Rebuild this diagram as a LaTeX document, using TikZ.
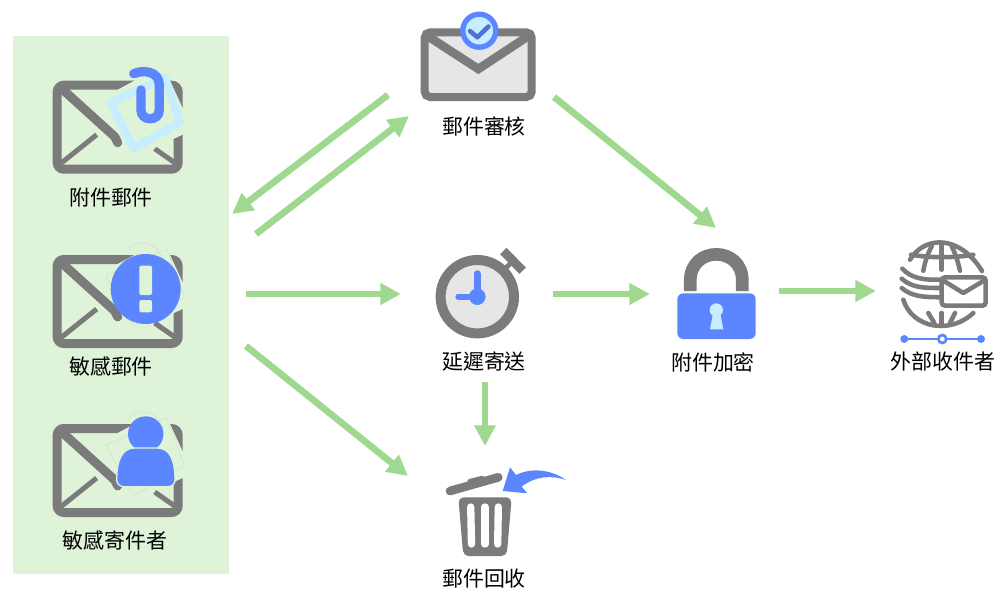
\documentclass[tikz,border=0pt]{standalone}
\usepackage{fontspec}
\setmainfont{Noto Sans CJK TC}
\usetikzlibrary{arrows.meta}
\definecolor{panelgreen}{HTML}{DFF3D9}
\definecolor{flowgreen}{HTML}{9FD98F}
\definecolor{icongrey}{HTML}{7B7B7B}
\definecolor{iconfill}{HTML}{E6E6E6}
\definecolor{iconblue}{HTML}{5B86FF}
\definecolor{iconpale}{HTML}{C6EEFF}
\definecolor{faintline}{HTML}{CFE6C8}
\tikzset{
    flowarrow/.style={-{Triangle[length=15.5pt,width=15.5pt]},line width=5pt,draw=flowgreen},
    iconlabel/.style={font=\fontsize{15.7pt}{15.7pt}\selectfont,text=black,inner sep=0pt},
    globeline/.style={icongrey,line width=3.4pt,line cap=round},
    pics/mailenv/.style={code={
        \draw [icongrey,line width=6.75pt,rounded corners=5pt] (4.5,4.5) rectangle (125.5,88.5);
        \draw [icongrey,line width=6.75pt,line cap=round,line join=round] (8,7) -- (62,56) -- (65,62);
        \draw [icongrey,line width=3.75pt] (9,82) -- (44,54);
        \draw [icongrey,line width=3.75pt] (102,68) -- (122,82);
        \fill [panelgreen] (49,17.6) -- (110.3,-15.4) -- (140,49.3) -- (79,77.6) -- cycle;
    }},
    pics/faintclip/.style={code={
        \draw [faintline,line width=0.5pt] (53.3,21) -- (114,-6) -- (132,42) -- (80.5,72) -- cycle;
        \draw [faintline,line width=0.5pt] (75.6,-5) .. controls (82,-14) and (100,-18) .. (110.6,3.3);
    }}
}
\begin{document}
\begin{tikzpicture}[x=0.75pt,y=-0.75pt]
    \useasboundingbox (0,0) rectangle (1002,596);
    \fill [panelgreen] (13,36) rectangle (229,574);
    % attachment mail
    \pic at (52.7,80.7) {mailenv};
    \begin{scope}[shift={(52.7,80.7)}]
        \draw [iconpale,line width=6pt,line join=round] (58,22) -- (112.3,-3.3) -- (127.3,42) -- (80.6,67.6) -- cycle;
        \draw [iconblue,line width=7pt,line cap=round] (88.3,9.3) -- (88.3,29.3) .. controls (88.3,41) and (106.6,41) .. (106.6,29.3) -- (106.6,4.3) .. controls (106.6,-10) and (90,-11) .. (81,-7);
    \end{scope}
    % sensitive mail
    \pic at (52.7,255) {mailenv};
    \pic at (52.7,255) {faintclip};
    \fill [iconblue] (145.7,289) circle [radius=35];
    \fill [panelgreen,rounded corners=1.5pt] (139.3,265.7) rectangle (152,295);
    \fill [panelgreen,rounded corners=1.5pt] (139.3,300) rectangle (152,312.3);
    % sensitive sender
    \pic at (52.7,424) {mailenv};
    \pic at (52.7,424) {faintclip};
    \fill [iconblue] (145.7,434) circle [radius=17.7];
    \draw [panelgreen,fill=iconblue,line width=1pt] (116.7,480) .. controls (116.7,460) and (122,448) .. (135,448) -- (157,448) .. controls (170,448) and (175,460) .. (175,480) .. controls (175,484) and (172,486.7) .. (168,486.7) -- (124,486.7) .. controls (120,486.7) and (116.7,484) .. (116.7,480) -- cycle;
    % audit
    \draw [icongrey,fill=iconfill,line width=6pt,rounded corners=4pt] (424.7,32.3) rectangle (531.7,97);
    \draw [icongrey,line width=6.5pt] (426,35) -- (478.3,69) -- (530,35);
    \draw [iconblue,fill=iconpale,line width=4pt] (479.3,30.7) circle [radius=16.5];
    \draw [iconblue!85!black,line width=3.4pt,line cap=round,line join=round] (470,31) -- (477.3,37.3) -- (488.5,26.5);
    % delay
    \draw [icongrey,line width=3.75pt] (505,269) -- (513,260.7);
    \draw [icongrey,line width=6.75pt] (503.3,251) -- (522.7,270.7);
    \draw [icongrey,fill=iconfill,line width=7.5pt] (477.3,296.7) circle [radius=36.7];
    \draw [iconblue,line width=4.8pt,line cap=round] (477.3,273.5) -- (477.3,296.7) -- (458.5,296.7);
    \fill [iconblue] (477.3,296.7) circle [radius=8.3];
    % recall
    \draw [icongrey,line width=6.5pt,line cap=round] (450,491) -- (498.3,477.3);
    \draw [icongrey,line width=4pt,line cap=round] (470,481.5) -- (482,478.5);
    \fill [icongrey,rounded corners=4pt] (458.3,497.3) -- (511.7,497.3) -- (506.7,556) -- (463.3,556) -- cycle;
    \draw [white,line width=5.5pt,line cap=round] (470.7,507) -- (471.5,544);
    \draw [white,line width=5.5pt,line cap=round] (485,507) -- (485,544);
    \draw [white,line width=5.5pt,line cap=round] (498.3,507) -- (497.7,544);
    \fill [iconblue] (502.7,491) -- (510,467.3) -- (516,475) .. controls (532,467) and (552,470) .. (566,480) .. controls (552,475) and (535,476) .. (521.7,486.7) -- (527.3,493.3) -- cycle;
    % lock
    \draw [icongrey,line width=9.5pt] (690.3,291) -- (690.3,280.6) .. controls (690.3,245.6) and (742.3,245.6) .. (742.3,280.6) -- (742.3,291);
    \fill [iconblue,rounded corners=4.5pt] (677.3,293.3) rectangle (755.7,339);
    \fill [iconpale] (716.3,310) circle [radius=6.7];
    \fill [iconpale] (713.3,312) -- (710,329.3) -- (723.3,329.3) -- (720,312) -- cycle;
    % receiver
    \draw [globeline] (910,259.7) .. controls (925,235) and (960,235) .. (982,271);
    \draw [globeline] (911,254.7) .. controls (930,258) and (955,258) .. (973.3,254.7);
    \draw [globeline] (941.7,244) -- (941.7,269.7);
    \draw [globeline] (931.7,246.3) .. controls (927,255) and (925,262) .. (923.3,270.7);
    \draw [globeline] (951.7,246.3) .. controls (956,255) and (958,262) .. (960,270.7);
    \draw [globeline] (902.3,268.7) .. controls (912,279) and (925,280) .. (940,279.7);
    \draw [globeline] (901.7,278.7) .. controls (912,288) and (925,288) .. (940,288);
    \draw [globeline] (901.7,288) .. controls (912,297) and (925,297) .. (940,297.3);
    \draw [globeline] (903.3,299.7) .. controls (912,328) and (950,335) .. (973.3,313);
    \draw [globeline] (941.7,313) -- (941.7,324.7);
    \draw [globeline] (928.3,313) -- (934.3,323);
    \draw [globeline] (955,313) -- (950,323);
    \draw [icongrey,fill=white,line width=3.4pt,rounded corners=2.5pt] (941.7,277.3) rectangle (985.7,305.7);
    \draw [icongrey,line width=3.4pt,line join=round] (942.3,280) -- (963.3,293) -- (985,280);
    \draw [iconblue,line width=1.75pt] (904.3,339) -- (981,339);
    \fill [iconblue] (904.3,339) circle [radius=4];
    \fill [iconblue] (981,339) circle [radius=4];
    \draw [iconblue,fill=white,line width=2pt] (942.3,339) circle [radius=4];
    % lecter
    \node (attachlabel) [iconlabel] at (111,198) {附件郵件};
    \node (sensitivelabel) [iconlabel] at (111,366) {敏感郵件};
    \node (senderlabel) [iconlabel] at (115,540) {敏感寄件者};
    \node (auditlabel) [iconlabel] at (484,127) {郵件審核};
    \node (delaylabel) [iconlabel] at (484,362) {延遲寄送};
    \node (recalllabel) [iconlabel] at (484,579) {郵件回收};
    \node (locklabel) [iconlabel] at (713,362) {附件加密};
    \node (receiverlabel) [iconlabel] at (943,362) {外部收件者};
    % flow
    \coordinate (auditback) at (388,95);
    \coordinate (panelback) at (232,214);
    \coordinate (panelup) at (256,234);
    \coordinate (auditin) at (409,116);
    \coordinate (auditout) at (554,97);
    \coordinate (lockin) at (716,228);
    \coordinate (panelmid) at (246,294);
    \coordinate (delayin) at (401,294);
    \coordinate (paneldown) at (246,346);
    \coordinate (recallin) at (408,476);
    \coordinate (delayout) at (553,294);
    \coordinate (lockleft) at (650,294);
    \coordinate (lockout) at (779,291);
    \coordinate (receiverin) at (876,291);
    \coordinate (delaydown) at (485,382);
    \coordinate (recalltop) at (485,446);
    \draw [flowarrow] (auditback) -- (panelback);
    \draw [flowarrow] (panelup) -- (auditin);
    \draw [flowarrow] (auditout) -- (lockin);
    \draw [flowarrow] (panelmid) -- (delayin);
    \draw [flowarrow] (paneldown) -- (recallin);
    \draw [flowarrow] (delayout) -- (lockleft);
    \draw [flowarrow] (lockout) -- (receiverin);
    \draw [flowarrow] (delaydown) -- (recalltop);
\end{tikzpicture}
\end{document}
